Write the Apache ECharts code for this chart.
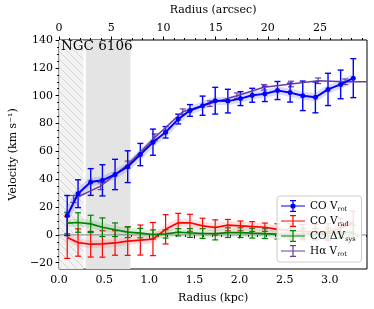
<!DOCTYPE html>
<html>
<head>
<meta charset="utf-8">
<script src="https://cdn.jsdelivr.net/npm/echarts@6/dist/echarts.min.js"></script>
<style>html,body{margin:0;padding:0;background:#fff}#c{width:374px;height:309px}</style>
</head>
<body>
<div id="c"></div>
<script>
// ---- data ----
const coRadius = [0.09, 0.21, 0.35, 0.48, 0.62, 0.76, 0.90, 1.04, 1.18, 1.32, 1.45, 1.59, 1.73, 1.87, 2.01, 2.14, 2.28, 2.42, 2.56, 2.70, 2.84, 2.98, 3.12, 3.26];
const coVrot = [13.9, 29.6, 38.0, 39.2, 43.4, 49.0, 57.7, 66.6, 73.7, 83.2, 89.4, 92.8, 96.4, 96.1, 97.9, 100.3, 101.3, 103.7, 102.2, 99.9, 98.8, 104.5, 108.1, 112.6];
const coVrotErr = [14.4, 10.0, 9.6, 11.2, 10.9, 11.4, 8.0, 9.4, 4.1, 3.5, 4.2, 6.9, 9.6, 8.5, 5.0, 5.0, 5.5, 6.5, 6.8, 10.6, 11.1, 11.6, 10.3, 14.0];
const coVrad = [-1.9, -5.5, -6.7, -6.5, -5.8, -4.5, -3.7, -3.0, 4.0, 8.7, 8.7, 6.5, 5.3, 7.0, 6.5, 6.0, 5.5, 4.0, 3.0, 2.5, 2.0, 2.0, 5.0, 9.0];
const coVradErr = [15.0, 9.8, 9.2, 9.5, 8.8, 10.2, 10.8, 11.9, 10.5, 6.8, 6.1, 5.5, 5.5, 4.1, 3.5, 3.5, 3.0, 4.0, 5.0, 5.0, 5.5, 6.0, 7.0, 8.0];
const coDVsys = [8.5, 8.9, 7.9, 5.5, 3.7, 2.0, 1.3, 0.3, 0.7, 1.9, 1.4, 1.0, 0.9, 1.6, 1.6, 1.2, 0.9, 0.5, 0.5, 0.5, 0.5, 1.0, 1.5, 2.0];
const coDVsysErr = [7.7, 7.0, 6.2, 6.7, 4.9, 3.9, 3.4, 3.3, 3.0, 2.6, 3.2, 3.5, 4.5, 3.5, 3.5, 3.5, 3.5, 3.5, 4.0, 4.0, 4.0, 4.0, 4.0, 5.0];
const haRadius = [0.16, 0.46, 0.76, 1.06, 1.37, 1.67, 1.97, 2.27, 2.57, 2.87, 3.17, 3.41];
const haVrot = [25.8, 35.0, 50.5, 70.0, 88.5, 94.3, 100.0, 106.0, 108.4, 110.7, 110.0, 110.0];
const haVrotErr = [2.5, 2.5, 2.5, 2.5, 2.0, 2.0, 2.0, 2.0, 2.0, 2.0, 2.0, 0];
const hatchRange = [0, 0.27];
const grayRange = [0.295, 0.79];
const kpcTicks = [0, 0.5, 1.0, 1.5, 2.0, 2.5, 3.0];
const kpcMinor = [0.1,0.2,0.3,0.4,0.6,0.7,0.8,0.9,1.1,1.2,1.3,1.4,1.6,1.7,1.8,1.9,2.1,2.2,2.3,2.4,2.6,2.7,2.8,2.9,3.1,3.2,3.3,3.4];
const arcTicks = [0, 5, 10, 15, 20, 25];
const arcMinor = [1,2,3,4,6,7,8,9,11,12,13,14,16,17,18,19,21,22,23,24,26,27,28,29];
const velTicks = [-20, 0, 20, 40, 60, 80, 100, 120, 140];
const velMinor = [-25,-15,-10,-5,5,10,15,25,30,35,45,50,55,65,70,75,85,90,95,105,110,115,125,130,135];

// ---- helpers ----
const F = 'DejaVu Serif';
const pairs = (xs, ys) => xs.map((x, i) => [x, ys[i]]);
const triples = (xs, ys, es) => xs.map((x, i) => [x, ys[i], es[i]]);
const minus = v => (v < 0 ? '\u2212' + (-v) : String(v));

const hatch = document.createElement('canvas');
hatch.width = 8; hatch.height = 8;
(function () {
  const g = hatch.getContext('2d');
  g.fillStyle = '#f2f2f2'; g.fillRect(0, 0, 8, 8);
  g.strokeStyle = '#d2d2d2'; g.lineWidth = 0.9;
  g.beginPath(); g.moveTo(-1, -1); g.lineTo(9, 9); g.moveTo(-1, 7); g.lineTo(1, 9); g.moveTo(7, -1); g.lineTo(9, 1); g.stroke();
})();

function errRender(color, cap, lw) {
  return function (params, api) {
    const x = api.value(0), y = api.value(1), e = api.value(2);
    if (!e) return null;
    const t = api.coord([x, y + e]), b = api.coord([x, y - e]);
    const s = { stroke: color, lineWidth: lw, fill: null };
    return { type: 'group', children: [
      { type: 'line', shape: { x1: t[0], y1: t[1], x2: b[0], y2: b[1] }, style: s },
      { type: 'line', shape: { x1: t[0] - cap, y1: t[1], x2: t[0] + cap, y2: t[1] }, style: s },
      { type: 'line', shape: { x1: b[0] - cap, y1: b[1], x2: b[0] + cap, y2: b[1] }, style: s }
    ]};
  };
}
function regionRender(fill) {
  return function (params, api) {
    const cs = params.coordSys;
    const a = api.coord([api.value(0), 0])[0], b = api.coord([api.value(1), 0])[0];
    return { type: 'rect', shape: { x: a, y: cs.y, width: b - a, height: cs.height }, style: { fill: fill } };
  };
}
function errSeries(name, xs, ys, es, color, cap, lw) {
  return { name: name, type: 'custom', xAxisIndex: 0, yAxisIndex: 0, data: triples(xs, ys, es), clip: true,
    encode: { x: 0, y: 1 }, renderItem: errRender(color, cap, lw), silent: true };
}
function bandSeries(xs, ys, color, w) {
  return { name: 'band', type: 'line', data: pairs(xs, ys), symbol: 'none', silent: true,
    lineStyle: { color: color, width: w }, itemStyle: { color: color } };
}

const BLUE = '#0000ff', RED = '#ff0000', GREEN = '#008000', PURPLE = '#6a3d9a';
const eb = 'M0,5.4h24v1.2h-24z M11.4,0h1.2v12h-1.2z M9,0h6v1.2h-6z M9,10.8h6v1.2h-6z';
const ebDot = eb + ' M14.6,6a2.6,2.6 0 1,1 -5.2,0a2.6,2.6 0 1,1 5.2,0z';
const legendText = {
  'CO Vrot': '{a|CO V}{b|rot}',
  'CO Vrad': '{a|CO V}{b|rad}',
  'CO dVsys': '{a|CO \u0394V}{b|sys}',
  'Ha Vrot': '{a|H\u03b1 V}{b|rot}'
};

const tickLbl = { fontFamily: F, fontSize: 11, color: '#000' };
const chart = echarts.init(document.getElementById('c'), null, { renderer: 'canvas' });
chart.setOption({
  animation: false,
  grid: { left: 55.5, right: 7, top: 34, bottom: 40, show: true, borderColor: '#000', borderWidth: 1, backgroundColor: 'transparent' },
  xAxis: [
    { type: 'value', position: 'bottom', min: 0, max: 3.412, splitLine: { show: false }, axisLine: { show: false },
      axisTick: { show: true, length: 3.5, lineStyle: { color: '#000' }, customValues: kpcTicks },
      axisLabel: { ...tickLbl, margin: 6, customValues: kpcTicks, formatter: v => v.toFixed(1) },
      name: 'Radius (kpc)', nameLocation: 'middle', nameGap: 24, nameTextStyle: { fontFamily: F, fontSize: 11, color: '#000' } },
    { type: 'value', position: 'bottom', min: 0, max: 3.412, splitLine: { show: false }, axisLine: { show: false },
      axisTick: { show: true, length: 2, lineStyle: { color: '#000' }, customValues: kpcMinor }, axisLabel: { show: false } },
    { type: 'value', position: 'top', min: 0, max: 29.5, splitLine: { show: false }, axisLine: { show: false },
      axisTick: { show: true, length: 3.5, lineStyle: { color: '#000' }, customValues: arcTicks },
      axisLabel: { ...tickLbl, margin: 6, customValues: arcTicks },
      name: 'Radius (arcsec)', nameLocation: 'middle', nameGap: 24, nameTextStyle: { fontFamily: F, fontSize: 11, color: '#000' } },
    { type: 'value', position: 'top', min: 0, max: 29.5, splitLine: { show: false }, axisLine: { show: false },
      axisTick: { show: true, length: 2, lineStyle: { color: '#000' }, customValues: arcMinor }, axisLabel: { show: false } }
  ],
  yAxis: [
    { type: 'value', position: 'left', min: -24.5, max: 140, splitLine: { show: false }, axisLine: { show: false },
      axisTick: { show: true, length: 3.5, lineStyle: { color: '#000' }, customValues: velTicks },
      axisLabel: { ...tickLbl, margin: 6, customValues: velTicks, formatter: minus },
      name: 'Velocity (km s\u207b\u00b9)', nameLocation: 'middle', nameGap: 34, nameTextStyle: { fontFamily: F, fontSize: 11, color: '#000' } },
    { type: 'value', position: 'left', min: -24.5, max: 140, splitLine: { show: false }, axisLine: { show: false },
      axisTick: { show: true, length: 2, lineStyle: { color: '#000' }, customValues: velMinor }, axisLabel: { show: false } }
  ],
  legend: {
    orient: 'vertical', left: 277, top: 196, itemWidth: 24, itemHeight: 12, itemGap: 2,
    padding: [4, 6, 4, 4], backgroundColor: 'rgba(255,255,255,0.85)', borderColor: '#cccccc', borderWidth: 1, borderRadius: 3,
    selectedMode: false,
    data: [
      { name: 'CO Vrot', icon: 'path://' + ebDot },
      { name: 'CO Vrad', icon: 'path://' + eb },
      { name: 'CO dVsys', icon: 'path://' + eb },
      { name: 'Ha Vrot', icon: 'path://' + eb }
    ],
    formatter: n => legendText[n],
    textStyle: { rich: {
      a: { fontFamily: F, fontSize: 10.5, color: '#000', lineHeight: 14 },
      b: { fontFamily: F, fontSize: 6.5, color: '#000', lineHeight: 10, verticalAlign: 'bottom' }
    } }
  },
  graphic: [{ type: 'text', left: 61, top: 39, style: { text: 'NGC 6106', fontFamily: F, fontSize: 13.5, fill: '#000' }, z: 100 }],
  series: [
    { name: 'hatch', type: 'custom', data: [hatchRange], encode: { x: [0, 1] }, renderItem: regionRender({ image: hatch, repeat: 'repeat' }), silent: true },
    { name: 'gray', type: 'custom', data: [grayRange], encode: { x: [0, 1] }, renderItem: regionRender('#e4e4e4'), silent: true },
    { name: 'zero', type: 'custom', data: [[0]], renderItem: function (params, api) {
        const cs = params.coordSys; const y = api.coord([0, 0])[1];
        return { type: 'line', shape: { x1: cs.x, y1: y, x2: cs.x + cs.width, y2: y }, style: { stroke: '#666', lineWidth: 0.8 } };
      }, silent: true },
    bandSeries(coRadius, coVrad, 'rgba(255,80,80,0.18)', 8),
    bandSeries(coRadius, coDVsys, 'rgba(60,160,60,0.18)', 8),
    bandSeries(coRadius, coVrot, 'rgba(90,90,255,0.22)', 8),
    errSeries('e_rad', coRadius, coVrad, coVradErr, RED, 3, 1.2),
    { name: 'CO Vrad', type: 'line', data: pairs(coRadius, coVrad), symbol: 'none', lineStyle: { color: RED, width: 1.7 }, itemStyle: { color: RED } },
    errSeries('e_sys', coRadius, coDVsys, coDVsysErr, GREEN, 3, 1.2),
    { name: 'CO dVsys', type: 'line', data: pairs(coRadius, coDVsys), symbol: 'none', lineStyle: { color: GREEN, width: 1.7 }, itemStyle: { color: GREEN } },
    errSeries('e_ha', haRadius, haVrot, haVrotErr, PURPLE, 3, 1.2),
    { name: 'Ha Vrot', type: 'line', data: pairs(haRadius, haVrot), symbol: 'none', lineStyle: { color: PURPLE, width: 1.5 }, itemStyle: { color: PURPLE } },
    errSeries('e_rot', coRadius, coVrot, coVrotErr, BLUE, 3, 1.4),
    { name: 'CO Vrot', type: 'line', data: pairs(coRadius, coVrot), symbol: 'circle', symbolSize: 5, showSymbol: true,
      lineStyle: { color: BLUE, width: 2 }, itemStyle: { color: BLUE } }
  ]
});
</script>
</body>
</html>
